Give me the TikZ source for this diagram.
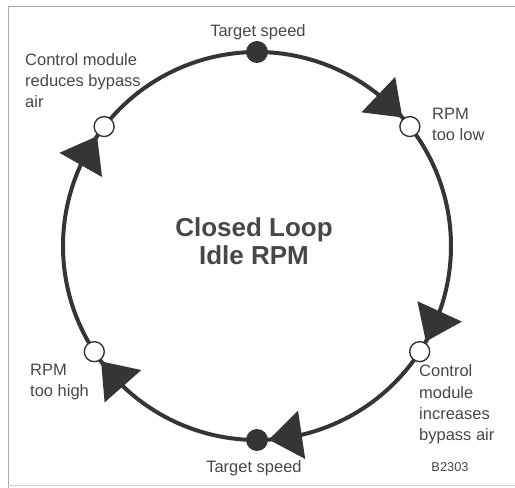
\documentclass[tikz,border=0pt]{standalone}
\usepackage{fontspec}
\setmainfont{Liberation Sans}
\usetikzlibrary{calc,backgrounds}
\definecolor{ink}{HTML}{353535}
\definecolor{label}{HTML}{474747}
\definecolor{frame}{HTML}{A8A8A8}
\begin{document}
\begin{tikzpicture}[x=1pt,y=1pt,
  loop/.style={draw=ink, line width=4pt},
  state/.style={circle, draw=ink, line width=1.4pt, fill=white, minimum size=20pt, inner sep=0pt},
  setpoint/.style={circle, fill=ink, minimum size=22pt, inner sep=0pt},
  lbl/.style={text=label, font=\fontsize{16.5}{21.4}\selectfont, inner sep=0pt, align=left},
  head/.style={fill=ink}]
\useasboundingbox (0,0) rectangle (515,488);
% frame
\draw[frame, line width=1pt] (8,0) -- (8,481) -- (515,481);
\draw[frame!50, line width=0.8pt] (8,3) -- (515,3);

\def\R{194}
\coordinate (c) at (257,242);

% states on the loop
\node[setpoint] (top) at ($(c)+(90:\R)$) {};
\node[state]    (ur)  at ($(c)+(38:\R)$) {};
\node[state]    (lr)  at ($(c)+(-33:\R)$) {};
\node[setpoint] (bot) at ($(c)+(-90:\R)$) {};
\node[state]    (ll)  at ($(c)+(-147:\R)$) {};
\node[state]    (ul)  at ($(c)+(142:\R)$) {};

\begin{scope}[on background layer]
  % loop arcs, clockwise
  \draw[loop] (top.center) arc[start angle=90,   end angle=38,   radius=\R];
  \draw[loop] (ur.center)  arc[start angle=38,   end angle=-33,  radius=\R];
  \draw[loop] (lr.center)  arc[start angle=-33,  end angle=-90,  radius=\R];
  \draw[loop] (bot.center) arc[start angle=-90,  end angle=-147, radius=\R];
  \draw[loop] (ll.center)  arc[start angle=-147, end angle=-218, radius=\R];
  \draw[loop] (ul.center)  arc[start angle=142,  end angle=90,   radius=\R];
  % direction arrows just ahead of each state
  \foreach \a in {38,-33,-90,-147,142} {
    \coordinate (tip) at ($(c)+({\a+3.5}:\R)$);
    \coordinate (bm)  at ($(c)+({\a+13.3}:\R)$);
    \fill[head] (tip) -- ($(bm)!24.5pt!90:(tip)$) -- ($(bm)!24.5pt!-90:(tip)$) -- cycle;
  }
\end{scope}

% labels (multi-line nodes are placed by the baseline of their last line)
\node[lbl, anchor=base] (ttop) at (258,451.5) {Target speed};
\node[lbl, anchor=base] (tbot) at (254,15) {Target speed};
\node[lbl, anchor=base west] (tul) at (25,380) {Control module\\reduces bypass\\air};
\node[lbl, anchor=base west] (tur) at (432,347) {RPM\\too low};
\node[lbl, anchor=base west] (tll) at (30,91) {RPM\\too high};
\node[lbl, anchor=base west] (tlr) at (419,47) {Control\\module\\increases\\bypass air};
\node[text=label, font=\fontsize{12.8}{15}\selectfont, inner sep=0pt, anchor=base] (code) at (450,16) {B2303};
\node[text=label, font=\bfseries\fontsize{26}{28.5}\selectfont, inner sep=0pt, align=center, anchor=base] (title) at (254,223) {Closed Loop\\Idle RPM};
\end{tikzpicture}
\end{document}
